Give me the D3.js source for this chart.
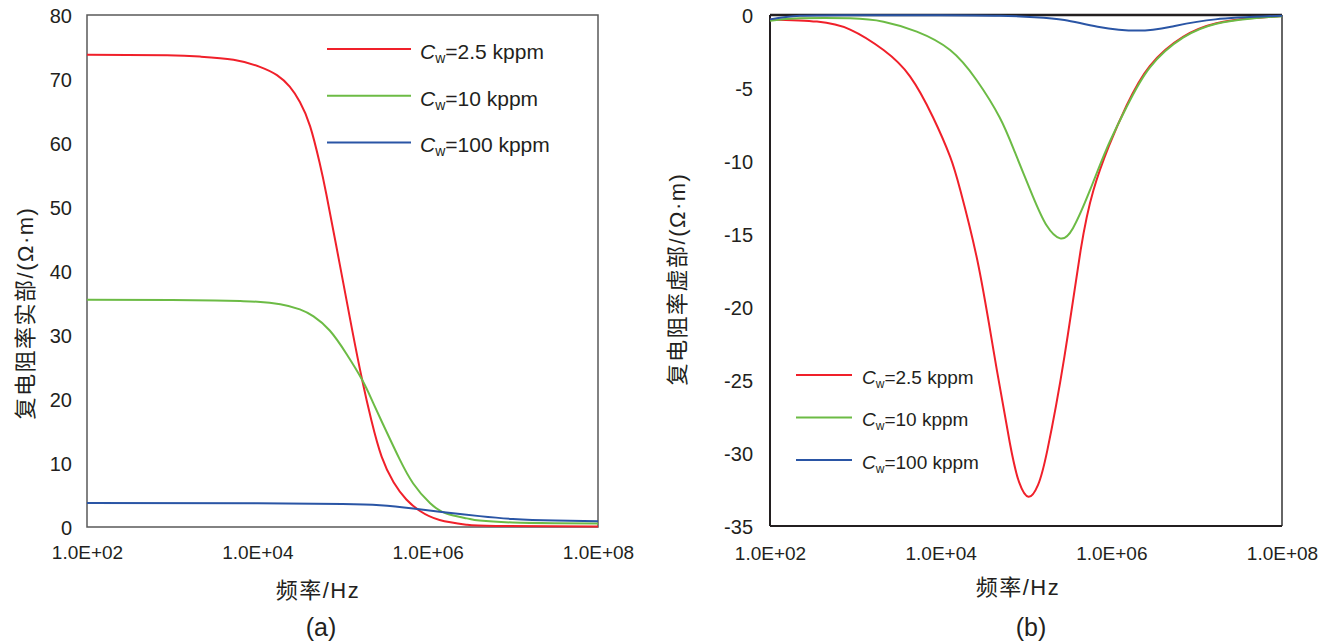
<!DOCTYPE html>
<html>
<head>
<meta charset="utf-8">
<script src="https://cdn.jsdelivr.net/npm/d3@7"></script>
<style>
  body { margin: 0; background: #fff; }
  svg text { font-family: "Liberation Sans", Arial, "Noto Sans CJK SC", sans-serif; fill: #231f20; }
</style>
</head>
<body>
<svg id="chart" width="1337" height="644"></svg>
<script>
// ---- data --------------------------------------------------------------
const freqTicks = [1e2, 1e4, 1e6, 1e8];
const freqTickLabels = ['1.0E+02', '1.0E+04', '1.0E+06', '1.0E+08'];
const realTicks = [0, 10, 20, 30, 40, 50, 60, 70, 80];
const imagTicks = [0, -5, -10, -15, -20, -25, -30, -35];

const seriesNames = ['=2.5 kppm', '=10 kppm', '=100 kppm'];
const seriesColors = ['#f0202a', '#6cbb45', '#2a55a5'];

// real part [frequency Hz, ohm·m]
const realRed = [
  [1e2, 73.8], [8.7e2, 73.7], [2.14e3, 73.5], [5.25e3, 73.0], [1.07e4, 71.9],
  [1.7e4, 70.6], [2.4e4, 68.8], [3.16e4, 66.4], [4.17e4, 62.6], [5.37e4, 57.0],
  [6.46e4, 52.0], [9.3e4, 41.0], [1.29e5, 31.0], [1.7e5, 23.0], [2.19e5, 16.6],
  [2.88e5, 11.0], [3.98e5, 7.0], [5.62e5, 4.3], [8.13e5, 2.5], [1.38e6, 1.1],
  [2.88e6, 0.35], [6.3e6, 0.15], [1e8, 0.08]
];
const realGreen = [
  [1e2, 35.5], [1e3, 35.45], [3.16e3, 35.4], [6.3e3, 35.3], [1e4, 35.2],
  [1.86e4, 34.8], [3.16e4, 34.0], [4.57e4, 32.9], [7.08e4, 30.7], [1.12e5, 27.0],
  [1.7e5, 23.0], [2.29e5, 19.4], [3.31e5, 14.8], [4.68e5, 10.6], [6.76e5, 6.8],
  [1.07e6, 3.7], [1.66e6, 2.1], [2.88e6, 1.35], [4.07e6, 1.0], [1e7, 0.7],
  [3.16e7, 0.6], [1e8, 0.55]
];
const realBlue = [
  [1e2, 3.75], [1e4, 3.7], [1e5, 3.6], [2.75e5, 3.4], [6.76e5, 2.9],
  [1.38e6, 2.4], [4.07e6, 1.7], [1e7, 1.25], [3.16e7, 1.0], [1e8, 0.9]
];

// imaginary part [frequency Hz, ohm·m]
const imagRed = [
  [1e2, -0.3], [3.55e2, -0.45], [8.7e2, -1.0], [2.14e3, -2.4], [4.37e3, -4.2],
  [8.13e3, -7.0], [1.29e4, -9.7], [1.7e4, -12.0], [2.69e4, -16.8], [4.17e4, -23.0],
  [6.46e4, -29.3], [8.3e4, -32.0], [1.07e5, -33.0], [1.38e5, -32.2], [1.78e5, -29.8],
  [2.82e5, -23.4], [4.37e5, -16.1], [6.17e5, -12.0], [9.33e5, -9.0], [1.51e6, -6.2],
  [2.82e6, -3.5], [6.92e6, -1.5], [1.7e7, -0.57], [4.17e7, -0.23], [1e8, -0.07]
];
const imagGreen = [
  [1e2, -0.4], [2.24e2, -0.23], [8.7e2, -0.23], [2.14e3, -0.46], [5.25e3, -1.14],
  [1.29e4, -2.4], [2.63e4, -4.45], [4.9e4, -7.0], [7.41e4, -9.4], [1.2e5, -12.4],
  [1.74e5, -14.4], [2.51e5, -15.3], [3.55e5, -14.6], [5.62e5, -12.0], [8.91e5, -9.1],
  [1.51e6, -6.3], [2.82e6, -3.6], [6.92e6, -1.55], [1.7e7, -0.6], [4.17e7, -0.25], [1e8, -0.08]
];
const imagBlue = [
  [1e2, -0.3], [2.24e2, -0.05], [1e3, -0.01], [1e4, -0.01], [4.9e4, -0.05],
  [1.26e5, -0.15], [2.82e5, -0.34], [6.92e5, -0.8], [2.04e6, -1.07], [5.01e6, -0.8],
  [1.66e7, -0.3], [1e8, -0.05]
];

// ---- drawing ------------------------------------------------------------
const svg = d3.select('#chart');

function drawPanel(p) {
  const g = svg.append('g').attr('transform', `translate(${p.left},${p.top})`);
  const x = d3.scaleLog().domain([1e2, 1e8]).range([0, p.W]);
  const y = d3.scaleLinear().domain(p.yDomain).range([p.H, 0]);

  // y tick labels (plain hyphen for negatives, as in the figure)
  const ya = g.append('g')
    .call(d3.axisLeft(y).tickValues(p.yTicks).tickSize(0).tickPadding(p.yPad).tickFormat(d => String(d)));
  ya.select('.domain').remove();
  ya.selectAll('text').attr('font-size', 20).attr('font-family', null).attr('dy', '0.36em');

  // x tick labels
  const xa = g.append('g').attr('transform', `translate(0,${p.H})`)
    .call(d3.axisBottom(x).tickValues(freqTicks).tickSize(0).tickPadding(p.xPad)
      .tickFormat((d, i) => freqTickLabels[i]));
  xa.select('.domain').remove();
  xa.selectAll('text').attr('font-size', 19).attr('font-family', null);

  // frame
  p.frame(g, p.W, p.H);

  // curves
  const line = d3.line().x(d => x(d[0])).y(d => y(d[1])).curve(d3.curveNatural);
  p.series.forEach((s, i) => {
    g.append('path').datum(s)
      .attr('fill', 'none').attr('stroke', seriesColors[i]).attr('stroke-width', 2)
      .attr('d', line);
  });

  // legend
  const lg = svg.append('g');
  seriesNames.forEach((name, i) => {
    const ly = p.legend.y + i * p.legend.step;
    lg.append('line')
      .attr('x1', p.legend.x1).attr('x2', p.legend.x2).attr('y1', ly).attr('y2', ly)
      .attr('stroke', seriesColors[i]).attr('stroke-width', 2);
    const t = lg.append('text').attr('x', p.legend.tx).attr('y', ly + p.legend.dy)
      .attr('font-size', p.legend.fs);
    t.append('tspan').attr('font-style', 'italic').text('C');
    t.append('tspan').attr('font-size', p.legend.sub).attr('dy', 4).text('w');
    t.append('tspan').attr('dy', -4).text(name);
  });

  // axis titles
  svg.append('text').attr('x', p.xTitle[0]).attr('y', p.xTitle[1])
    .attr('text-anchor', 'middle').attr('font-size', 22).attr('letter-spacing', 1.5)
    .text('频率/Hz');
  svg.append('text')
    .attr('transform', `translate(${p.yTitle[0]},${p.yTitle[1]}) rotate(-90)`)
    .attr('text-anchor', 'middle').attr('dominant-baseline', 'central')
    .attr('font-size', 22).attr('letter-spacing', 1.5).text(p.yLabel);
  svg.append('text').attr('x', p.tag[0]).attr('y', p.tag[1])
    .attr('text-anchor', 'middle').attr('font-size', 25).text(p.tagText);
}

drawPanel({
  left: 87, top: 15, W: 511, H: 512,
  yDomain: [0, 80], yTicks: realTicks, yPad: 15, xPad: 19,
  series: [realRed, realGreen, realBlue],
  frame: (g, W, H) => {
    g.append('rect').attr('width', W).attr('height', H)
      .attr('fill', 'none').attr('stroke', '#595959').attr('stroke-width', 1.5);
  },
  legend: { x1: 327, x2: 411, y: 49, step: 46.7, tx: 420, dy: 10, fs: 21, sub: 14 },
  xTitle: [318, 598], yTitle: [25, 313], yLabel: '复电阻率实部/(Ω·m)',
  tag: [321, 636], tagText: '(a)'
});

drawPanel({
  left: 770, top: 15, W: 512, H: 511,
  yDomain: [-35, 0], yTicks: imagTicks, yPad: 17, xPad: 21,
  series: [imagRed, imagGreen, imagBlue],
  frame: (g, W, H) => {
    g.append('line').attr('x1', W).attr('x2', W).attr('y1', 0).attr('y2', H)
      .attr('stroke', '#333').attr('stroke-width', 1.5);
    g.append('line').attr('x1', 0).attr('x2', W).attr('y1', H).attr('y2', H)
      .attr('stroke', '#231f20').attr('stroke-width', 2);
    g.append('line').attr('x1', 0).attr('x2', 0).attr('y1', 0).attr('y2', H)
      .attr('stroke', '#231f20').attr('stroke-width', 2);
    g.append('line').attr('x1', 0).attr('x2', W).attr('y1', 0).attr('y2', 0)
      .attr('stroke', '#231f20').attr('stroke-width', 2.5);
  },
  legend: { x1: 796, x2: 852, y: 375, step: 42.5, tx: 862, dy: 8.5, fs: 19, sub: 12 },
  xTitle: [1018, 595], yTitle: [677, 279], yLabel: '复电阻率虚部/(Ω·m)',
  tag: [1031, 636], tagText: '(b)'
});
</script>
</body>
</html>
